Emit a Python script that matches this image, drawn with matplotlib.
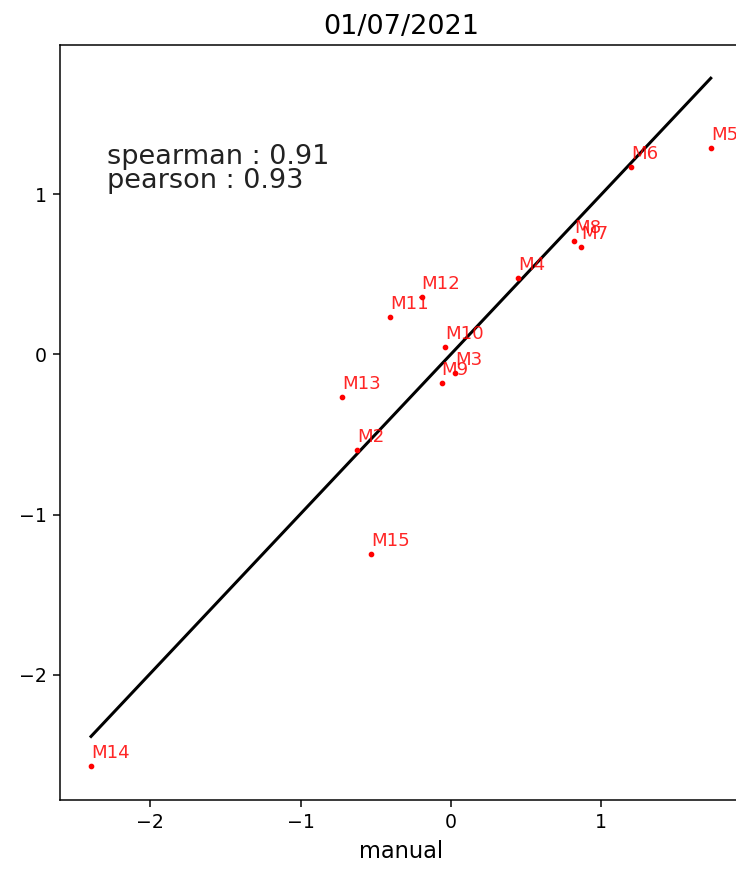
import matplotlib

matplotlib.use("Agg")
import matplotlib.pyplot as plt
import numpy as np

TITLE = "01/07/2021"
X_LABEL = "manual"

labels = ["M2", "M3", "M4", "M5", "M6", "M7", "M8", "M9", "M10",
          "M11", "M12", "M13", "M14", "M15"]
manual = [-0.627, 0.027, 0.448, 1.728, 1.196, 0.865, 0.820, -0.062, -0.040,
          -0.406, -0.195, -0.725, -2.395, -0.532]
predicted = [-0.597, -0.116, 0.477, 1.290, 1.166, 0.668, 0.709, -0.179, 0.045,
             0.236, 0.361, -0.268, -2.570, -1.245]

# regression line
fit_slope = 0.996
fit_intercept = 0.002

stats_text = ["spearman : 0.91", "pearson : 0.93"]

DPI = 136
fig = plt.figure(figsize=(736 / DPI, 871 / DPI), dpi=DPI)
# the reference is cropped: the right spine sits just past the image edge
ax = fig.add_axes([0.0818, 0.0815, 0.9272, 0.8668])

x = np.array(manual)
y = np.array(predicted)

x_line = np.array([x.min(), x.max()])
ax.plot(x_line, fit_slope * x_line + fit_intercept, color="black", linewidth=1.6)
ax.scatter(x, y, s=4, color="red", zorder=3)

for label, xi, yi in zip(labels, x, y):
    ax.text(xi, yi + 0.05, label, color="red", fontsize=9.7, alpha=0.85)

ax.text(-2.29, 1.19, stats_text[0], fontsize=14.4, color="#222222")
ax.text(-2.29, 1.04, stats_text[1], fontsize=14.4, color="#222222")

ax.set_xlim(-2.60, 1.94)
ax.set_ylim(-2.78, 1.93)
ax.set_xticks([-2, -1, 0, 1])
ax.set_yticks([-2, -1, 0, 1])
ax.set_title(TITLE, fontsize=14.4)
ax.set_xlabel(X_LABEL, fontsize=12)

fig.savefig("out.png", dpi=DPI)
plt.close(fig)
